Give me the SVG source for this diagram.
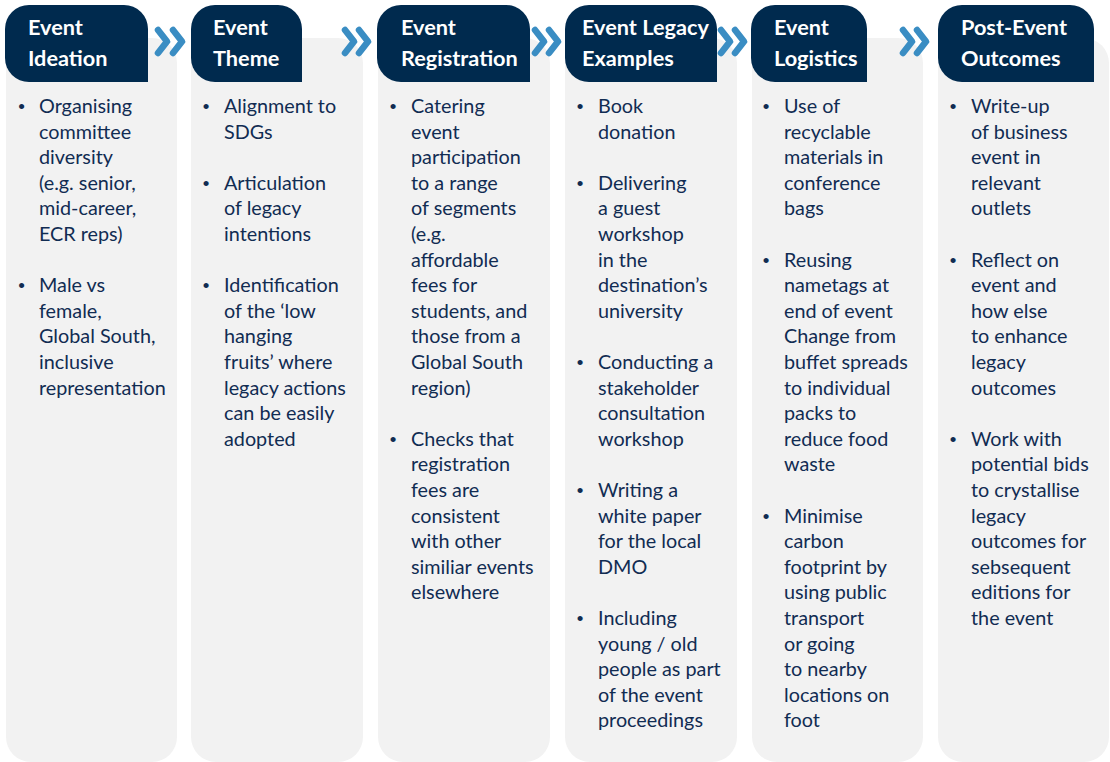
<svg xmlns="http://www.w3.org/2000/svg" width="1110" height="762" viewBox="0 0 1110 762">
<style>
.panel{fill:#F2F2F2}
.head{fill:#002A4E}
.ht{font-family:Lato,"Liberation Sans",sans-serif;font-weight:bold;font-size:21.7px;fill:#FFFFFF}
.bt{font-family:Lato,"Liberation Sans",sans-serif;font-size:19.8px;fill:#112C52}
.bu{font-family:"Liberation Sans",sans-serif;font-size:19px;fill:#112C52;text-anchor:middle}
.chev{fill:none;stroke:#3A8DC3;stroke-width:6.5;stroke-linecap:round;stroke-linejoin:round}
</style>
<rect width="1110" height="762" fill="#FFFFFF"/>
<g id="col1">
<rect class="panel" x="6" y="38" width="171" height="724" rx="25"/>
<path class="head" d="M29,5 H124 A24,24 0 0 1 148,29 V82 H29 A24,24 0 0 1 5,58 V29 A24,24 0 0 1 29,5 Z"/>
<text class="ht" x="28" y="35">Event</text><text class="ht" x="28" y="66">Ideation</text>
<text class="bu" x="21.5" y="113">•</text><text class="bu" x="21.5" y="292.2">•</text>
<text class="bt" x="39" y="113">Organising</text>
<text class="bt" x="39" y="138.6">committee</text>
<text class="bt" x="39" y="164.2">diversity</text>
<text class="bt" x="39" y="189.8">(e.g. senior,</text>
<text class="bt" x="39" y="215.4">mid-career,</text>
<text class="bt" x="39" y="241">ECR reps)</text>
<text class="bt" x="39" y="292.2">Male vs</text>
<text class="bt" x="39" y="317.8">female,</text>
<text class="bt" x="39" y="343.4">Global South,</text>
<text class="bt" x="39" y="369">inclusive</text>
<text class="bt" x="39" y="394.6">representation</text>
</g>
<g id="col2">
<rect class="panel" x="191" y="38" width="172" height="724" rx="25"/>
<path class="head" d="M215,5 H278 A24,24 0 0 1 302,29 V82 H215 A24,24 0 0 1 191,58 V29 A24,24 0 0 1 215,5 Z"/>
<text class="ht" x="213" y="35">Event</text><text class="ht" x="213" y="66">Theme</text>
<text class="bu" x="206" y="113">•</text><text class="bu" x="206" y="189.8">•</text><text class="bu" x="206" y="292.2">•</text>
<text class="bt" x="224" y="113">Alignment to</text>
<text class="bt" x="224" y="138.6">SDGs</text>
<text class="bt" x="224" y="189.8">Articulation</text>
<text class="bt" x="224" y="215.4">of legacy</text>
<text class="bt" x="224" y="241">intentions</text>
<text class="bt" x="224" y="292.2">Identification</text>
<text class="bt" x="224" y="317.8">of the ‘low</text>
<text class="bt" x="224" y="343.4">hanging</text>
<text class="bt" x="224" y="369">fruits’ where</text>
<text class="bt" x="224" y="394.6">legacy actions</text>
<text class="bt" x="224" y="420.2">can be easily</text>
<text class="bt" x="224" y="445.8">adopted</text>
</g>
<g id="col3">
<rect class="panel" x="378" y="38" width="172" height="724" rx="25"/>
<path class="head" d="M401,5 H506 A24,24 0 0 1 530,29 V82 H401 A24,24 0 0 1 377,58 V29 A24,24 0 0 1 401,5 Z"/>
<text class="ht" x="401" y="35">Event</text><text class="ht" x="401" y="66">Registration</text>
<text class="bu" x="393" y="113">•</text><text class="bu" x="393" y="445.8">•</text>
<text class="bt" x="411" y="113">Catering</text>
<text class="bt" x="411" y="138.6">event</text>
<text class="bt" x="411" y="164.2">participation</text>
<text class="bt" x="411" y="189.8">to a range</text>
<text class="bt" x="411" y="215.4">of segments</text>
<text class="bt" x="411" y="241">(e.g.</text>
<text class="bt" x="411" y="266.6">affordable</text>
<text class="bt" x="411" y="292.2">fees for</text>
<text class="bt" x="411" y="317.8">students, and</text>
<text class="bt" x="411" y="343.4">those from a</text>
<text class="bt" x="411" y="369">Global South</text>
<text class="bt" x="411" y="394.6">region)</text>
<text class="bt" x="411" y="445.8">Checks that</text>
<text class="bt" x="411" y="471.4">registration</text>
<text class="bt" x="411" y="497">fees are</text>
<text class="bt" x="411" y="522.6">consistent</text>
<text class="bt" x="411" y="548.2">with other</text>
<text class="bt" x="411" y="573.8">similiar events</text>
<text class="bt" x="411" y="599.4">elsewhere</text>
</g>
<g id="col4">
<rect class="panel" x="565" y="38" width="172" height="724" rx="25"/>
<path class="head" d="M589,5 H693 A24,24 0 0 1 717,29 V82 H589 A24,24 0 0 1 565,58 V29 A24,24 0 0 1 589,5 Z"/>
<text class="ht" x="582" y="35">Event Legacy</text><text class="ht" x="582" y="66">Examples</text>
<text class="bu" x="580" y="113">•</text><text class="bu" x="580" y="189.8">•</text><text class="bu" x="580" y="369">•</text><text class="bu" x="580" y="497">•</text><text class="bu" x="580" y="625">•</text>
<text class="bt" x="598" y="113">Book</text>
<text class="bt" x="598" y="138.6">donation</text>
<text class="bt" x="598" y="189.8">Delivering</text>
<text class="bt" x="598" y="215.4">a guest</text>
<text class="bt" x="598" y="241">workshop</text>
<text class="bt" x="598" y="266.6">in the</text>
<text class="bt" x="598" y="292.2">destination’s</text>
<text class="bt" x="598" y="317.8">university</text>
<text class="bt" x="598" y="369">Conducting a</text>
<text class="bt" x="598" y="394.6">stakeholder</text>
<text class="bt" x="598" y="420.2">consultation</text>
<text class="bt" x="598" y="445.8">workshop</text>
<text class="bt" x="598" y="497">Writing a</text>
<text class="bt" x="598" y="522.6">white paper</text>
<text class="bt" x="598" y="548.2">for the local</text>
<text class="bt" x="598" y="573.8">DMO</text>
<text class="bt" x="598" y="625">Including</text>
<text class="bt" x="598" y="650.6">young / old</text>
<text class="bt" x="598" y="676.2">people as part</text>
<text class="bt" x="598" y="701.8">of the event</text>
<text class="bt" x="598" y="727.4">proceedings</text>
</g>
<g id="col5">
<rect class="panel" x="752" y="38" width="171" height="724" rx="25"/>
<path class="head" d="M775,5 H843 A24,24 0 0 1 867,29 V82 H775 A24,24 0 0 1 751,58 V29 A24,24 0 0 1 775,5 Z"/>
<text class="ht" x="774" y="35">Event</text><text class="ht" x="774" y="66">Logistics</text>
<text class="bu" x="766" y="113">•</text><text class="bu" x="766" y="266.6">•</text><text class="bu" x="766" y="522.6">•</text>
<text class="bt" x="784" y="113">Use of</text>
<text class="bt" x="784" y="138.6">recyclable</text>
<text class="bt" x="784" y="164.2">materials in</text>
<text class="bt" x="784" y="189.8">conference</text>
<text class="bt" x="784" y="215.4">bags</text>
<text class="bt" x="784" y="266.6">Reusing</text>
<text class="bt" x="784" y="292.2">nametags at</text>
<text class="bt" x="784" y="317.8">end of event</text>
<text class="bt" x="784" y="343.4">Change from</text>
<text class="bt" x="784" y="369">buffet spreads</text>
<text class="bt" x="784" y="394.6">to individual</text>
<text class="bt" x="784" y="420.2">packs to</text>
<text class="bt" x="784" y="445.8">reduce food</text>
<text class="bt" x="784" y="471.4">waste</text>
<text class="bt" x="784" y="522.6">Minimise</text>
<text class="bt" x="784" y="548.2">carbon</text>
<text class="bt" x="784" y="573.8">footprint by</text>
<text class="bt" x="784" y="599.4">using public</text>
<text class="bt" x="784" y="625">transport</text>
<text class="bt" x="784" y="650.6">or going</text>
<text class="bt" x="784" y="676.2">to nearby</text>
<text class="bt" x="784" y="701.8">locations on</text>
<text class="bt" x="784" y="727.4">foot</text>
</g>
<g id="col6">
<rect class="panel" x="938" y="38" width="171" height="724" rx="25"/>
<path class="head" d="M962,5 H1070 A24,24 0 0 1 1094,29 V82 H962 A24,24 0 0 1 938,58 V29 A24,24 0 0 1 962,5 Z"/>
<text class="ht" x="961" y="35">Post-Event</text><text class="ht" x="961" y="66">Outcomes</text>
<text class="bu" x="953" y="113">•</text><text class="bu" x="953" y="266.6">•</text><text class="bu" x="953" y="445.8">•</text>
<text class="bt" x="971" y="113">Write-up</text>
<text class="bt" x="971" y="138.6">of business</text>
<text class="bt" x="971" y="164.2">event in</text>
<text class="bt" x="971" y="189.8">relevant</text>
<text class="bt" x="971" y="215.4">outlets</text>
<text class="bt" x="971" y="266.6">Reflect on</text>
<text class="bt" x="971" y="292.2">event and</text>
<text class="bt" x="971" y="317.8">how else</text>
<text class="bt" x="971" y="343.4">to enhance</text>
<text class="bt" x="971" y="369">legacy</text>
<text class="bt" x="971" y="394.6">outcomes</text>
<text class="bt" x="971" y="445.8">Work with</text>
<text class="bt" x="971" y="471.4">potential bids</text>
<text class="bt" x="971" y="497">to crystallise</text>
<text class="bt" x="971" y="522.6">legacy</text>
<text class="bt" x="971" y="548.2">outcomes for</text>
<text class="bt" x="971" y="573.8">sebsequent</text>
<text class="bt" x="971" y="599.4">editions for</text>
<text class="bt" x="971" y="625">the event</text>
</g>
<g id="connectors">
<polyline class="chev" points="158,30 167,41.5 158,53"/><polyline class="chev" points="173,30 182,41.5 173,53"/>
<polyline class="chev" points="345,30 354,41.5 345,53"/><polyline class="chev" points="359,30 368,41.5 359,53"/>
<polyline class="chev" points="535,30 544,41.5 535,53"/><polyline class="chev" points="549,30 558,41.5 549,53"/>
<polyline class="chev" points="721,30 730,41.5 721,53"/><polyline class="chev" points="735,30 744,41.5 735,53"/>
<polyline class="chev" points="903,30 912,41.5 903,53"/><polyline class="chev" points="917,30 926,41.5 917,53"/>
</g>
</svg>
